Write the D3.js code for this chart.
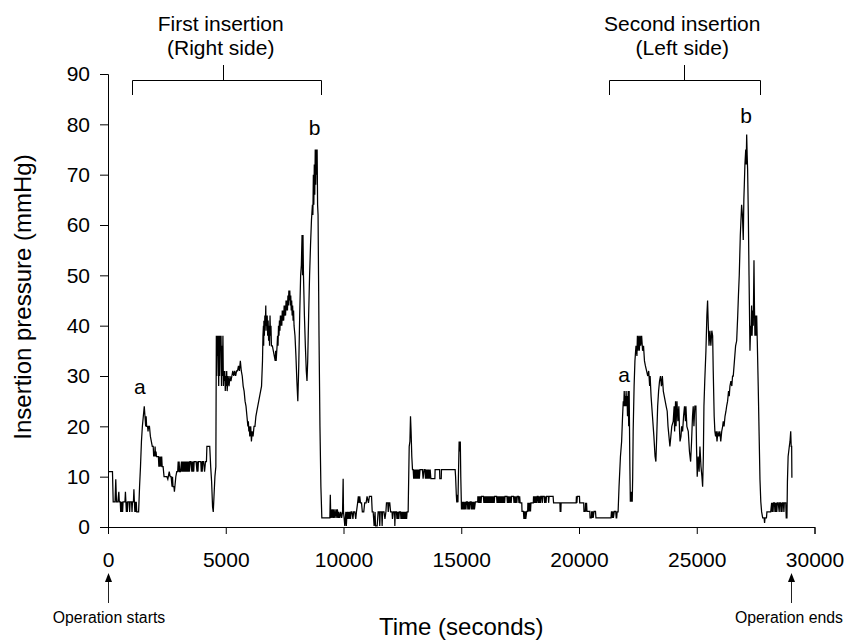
<!DOCTYPE html>
<html>
<head>
<meta charset="utf-8">
<script src="https://cdn.jsdelivr.net/npm/d3@7"></script>
<style>
  body { margin: 0; background: #fff; }
  text { font-family: "Liberation Sans", Arial, sans-serif; fill: #000; }
</style>
</head>
<body>
<div id="c"></div>
<script>
// pressure trace, [time (s), pressure (mmHg)]
var seg_start = [
	[0,11],[190,11],[220,5],[300,5],[330,9.5],[360,5],[420,5],[460,7],[480,5],[520,5],[540,3],[560,5],[580,3],[600,5],[620,3],[640,5],
	[720,5],[740,7],[760,5],[780,3],[800,5],[820,3],[840,5],[900,5],[920,3],[940,5],[1000,5],[1020,3],[1040,5],[1080,5],[1100,7.5],
	[1120,5],[1140,3],[1160,5],[1180,3],[1200,5],[1220,3],[1300,3],
	[1340,8],[1380,12],[1420,17],[1460,20],[1500,22],[1540,24],[1570,22],[1600,20],[1620,22],[1640,20],[1680,20],[1700,19],[1720,20],
	[1760,20],[1800,18],[1840,17],[1880,16],[1920,16],[1940,14],[1960,15],[1980,14],[2000,16],[2020,14],[2040,15],[2060,14],[2100,14],
	[2140,14],[2160,12],[2180,14],[2200,12],[2240,14],[2260,12],[2280,14],[2300,12],[2340,12],[2380,10],[2420,10],[2460,10],[2500,10],
	[2540,9.5],[2600,11],[2640,10],[2680,10],[2720,8],[2740,10],[2760,8],[2800,8],[2820,7],[2840,8],[2880,10],[2920,11],[2960,11],
	[2980,13],[3000,11],[3020,13],[3040,11],[3080,11],[3120,13],[3140,11],[3160,13],[3180,11],[3200,13],[3220,11],[3240,13],[3260,11],
	[3280,13],[3300,11],[3320,13],[3340,11],[3360,13],[3380,11],[3400,13],[3420,11],[3440,13],[3460,11],[3480,13],[3520,13],[3560,11],
	[3580,13],[3600,11],[3620,13],[3640,11],[3660,13],[3700,13],[3740,13],[3780,11],[3800,13],[3820,11],[3840,13],[3900,13],[3940,13],
	[3960,11],[3980,13],[4000,11],[4020,13],[4060,13],[4100,11],[4140,13],[4180,13],[4200,16],[4320,16],[4360,12],[4400,9],[4440,4],
	[4470,3],[4500,6],[4540,10]
];

var seg_first = [
	[4580,12],[4600,38],[4620,30],[4640,38],[4660,34],[4680,38],[4700,28],[4720,38],[4740,30],[4760,38],[4780,35],[4800,38],[4820,28],
	[4840,36],[4860,30],[4880,38],[4900,28],[4920,31],[4940,29],[4960,31],[4980,27],[5000,30],[5020,28],[5040,31],[5060,27],[5100,30],
	[5140,28],[5180,30],[5220,29],[5260,30],[5300,31],[5340,30],[5380,31],[5420,30],[5460,31],[5500,31],[5540,32],[5580,31],[5620,33],
	[5660,31],[5700,30],[5740,28],[5780,27],[5820,25],[5860,24],[5900,22],[5940,20],[5960,21],[5980,19],[6000,20],[6020,18],[6060,20],
	[6090,17],[6120,19],[6160,18],[6200,20],[6240,20],[6280,22],[6320,23],[6360,24],[6400,25],[6440,26],[6480,27],[6520,28],[6560,33],
	[6580,38],[6600,40],[6610,36],[6620,41],[6640,38],[6660,42],[6680,40],[6700,44],[6710,39],[6720,42],[6740,40],[6760,42],[6780,38],
	[6800,41],[6820,37],[6840,40],[6860,36],[6880,42],[6900,38],[6920,40],[6940,36],[6980,36],[7020,35],[7060,34],[7100,33],[7120,35],
	[7140,33],[7180,36],[7200,38],[7220,36],[7240,40],[7260,38],[7280,41],[7300,39],[7320,42],[7340,40],[7360,42],[7380,40],[7400,43],
	[7420,41],[7440,43],[7460,41],[7480,44],[7500,42],[7520,44],[7540,42],[7560,45],[7580,43],[7600,45],[7620,43],[7640,46],[7660,44],
	[7680,47],[7700,45],[7720,47],[7740,44],[7760,46],[7780,43],[7800,45],[7820,42],[7840,44],[7860,41],[7880,43],[7900,40],[7940,38],
	[7980,34],[8020,29],[8060,25],[8100,32],[8140,42],[8180,50],[8210,52],[8240,58],[8260,50],[8280,58],[8300,50],[8340,42],[8380,36],
	[8420,31],[8450,29],[8480,33],[8520,42],[8560,50],[8600,56],[8640,61],[8680,64],[8700,62],[8720,70],[8740,64],[8760,72],[8780,66],
	[8800,75],[8820,68],[8840,75],[8860,70],[8880,75],[8900,64],[8920,62],[8940,50],[8960,38],[9000,20],[9040,8]
];

var seg_gap = [
	[9080,1.8],[9420,1.8],[9440,6.4],[9460,1.8],[9480,3.5],[9520,1.8],[9540,3.5],[9580,1.8],[9600,3.5],[9640,1.8],[9680,3.5],[9720,1.8],
	[9740,3.5],[9780,1.8],[9800,3],[9840,1.8],[9880,3],[9920,1.8],[9960,3],[9985,9.6],[10000,3],[10030,1.6],[10055,0.2],[10100,3],
	[10120,0.2],[10150,3],[10180,1.6],[10200,3],[10240,1.6],[10260,3],[10300,1.6],[10320,3],[10360,3],[10400,1.6],[10430,3],[10480,3],
	[10520,1.6],[10550,3],[10600,4.8],[10630,6.1],[10660,4.8],[10690,6.1],[10720,4.8],[10765,4.8],[10800,3],[10860,3],[10900,4.8],
	[10960,4.8],[11000,6.1],[11060,4.8],[11100,6.1],[11190,6.1],[11220,3],[11260,3],[11300,0.2],[11340,3],[11360,0.2],[11430,0.2],
	[11470,3],[11520,3],[11540,0.2],[11560,3],[11620,3],[11640,0.2],[11660,3],[11720,3],[11760,1.6],[11800,3],[11825,4.8],[11880,4.8],
	[11900,3],[11930,4.8],[11965,4.8],[12000,3],[12060,3],[12080,1.6],[12120,3],[12170,3],[12180,0.2],[12200,3],[12250,3],[12270,1.6],
	[12290,3],[12310,1.6],[12330,3],[12350,1.6],[12370,3],[12420,3],[12440,1.6],[12460,3],[12480,1.6],[12500,3],[12520,1.6],[12540,3],
	[12560,1.6],[12580,3],[12600,1.6],[12620,3],[12640,1.6],[12660,3],[12680,1.6],[12700,3],[12745,3],[12790,16],[12820,17],[12845,22],
	[12870,19],[12900,14],[12930,11.4],[12960,11.4],[12980,9.6],[13000,11.4],[13020,9.6],[13040,11.4],[13060,9.6],[13080,11.4],
	[13100,9.6],[13120,11.4],[13140,9.6],[13160,11.4],[13180,9.6],[13200,11.4],[13220,9.6],[13250,11.4],[13350,11.4],[13380,9.6],
	[13420,11.4],[13460,11.4],[13480,9.6],[13500,11.4],[13520,9.6],[13540,11.4],[13560,9.6],[13580,11.4],[13600,9.6],[13620,11.4],
	[13650,9.6],[13680,11.4],[13710,9.6],[13880,9.6],[13890,11.4],[14080,11.4],[14090,9.6],[14150,9.6],[14160,11.4],[14740,11.4],
	[14760,10],[14790,6.4],[14810,4.9],[14830,6.4],[14860,4.9],[14880,10],[14910,17],[14940,15],[14960,17],[14980,10],[15010,3.5],
	[15040,5],[15060,3.5],[15080,5],[15100,3.5],[15120,5],[15140,3.5],[15180,5],[15200,3.5],[15220,5],[15260,5],[15280,3.5],[15300,5],
	[15320,3.5],[15340,5],[15360,3.5],[15380,5],[15420,5],[15440,3.5],[15460,5],[15480,3.5],[15500,5],[15520,3.5],[15540,5],[15560,3.5],
	[15600,5],[15700,5],[15705,6.1],[15720,4.8],[15740,6.1],[15760,4.8],[15780,6.1],[15800,4.8],[15820,6.1],[15840,4.8],[15860,6.1],
	[15940,6.1],[15960,4.8],[15980,6.1],[16000,4.8],[16020,6.1],[16040,4.8],[16060,6.1],[16080,4.8],[16100,6.1],[16120,4.8],[16140,6.1],
	[16160,4.8],[16180,6.1],[16200,4.8],[16220,6.1],[16240,4.8],[16260,6.1],[16280,4.8],[16300,6.1],[16320,4.8],[16340,6.1],[16360,4.8],
	[16380,6.1],[16400,4.8],[16420,6.1],[16500,6.1],[16520,4.8],[16540,6.1],[16560,4.8],[16580,6.1],[16600,4.8],[16620,6.1],[16640,4.8],
	[16660,6.1],[16680,4.8],[16700,6.1],[16720,4.8],[16740,6.1],[16760,4.8],[16780,6.1],[16800,4.8],[16820,6.1],[16840,4.8],[16860,6.1],
	[16940,6.1],[16960,4.8],[16980,6.1],[17000,4.8],[17020,6.1],[17060,4.8],[17080,6.1],[17120,4.8],[17140,6.1],[17220,6.1],[17240,4.8],
	[17260,6.1],[17300,4.8],[17320,6.1],[17360,4.8],[17380,6.1],[17430,6.1],[17450,4.8],[17480,6.1],[17500,4.8],[17570,4.8],[17580,3.1],
	[17640,3.1],[17660,1.6],[17680,3.1],[17700,1.6],[17720,3.1],[17740,1.6],[17780,3.1],[17820,3.1],[17830,4.8],[17860,3.1],[17880,4.8],
	[17900,3.1],[17920,4.8],[17940,3.1],[17960,4.8],[18060,4.8],[18070,6.1],[18090,4.8],[18110,6.1],[18130,4.8],[18150,6.1],[18170,4.8],
	[18190,6.1],[18210,4.8],[18230,6.1],[18260,6.1],[18280,4.8],[18300,6.1],[18320,4.8],[18340,6.1],[18360,4.8],[18380,6.1],[18420,6.1],
	[18440,4.8],[18460,6.1],[18520,6.1],[18540,4.8],[18560,6.1],[18600,4.8],[18620,6.1],[18700,6.1],[18710,4.8],[18730,6.1],[18900,6.1],
	[18920,4.8],[19190,4.8],[19200,3.1],[19230,3.1],[19240,4.8],[19880,4.8],[19890,6.1],[19910,4.8],[19930,6.1],[20020,6.1],[20030,4.8],
	[20200,4.8],[20210,3.1],[20260,3.1],[20280,4.8],[20300,3.1],[20320,4.8],[20340,3.1],[20460,3.1],[20470,1.8],[20520,1.8],[20540,3.1],
	[20560,1.8],[20580,3.1],[20600,1.8],[20640,3.1],[20700,3.1],[20720,1.8],[21360,1.8],[21380,3.1],[21420,1.8],[21440,3.1],[21460,1.8],
	[21500,3.1],[21560,3.1],[21580,1.8]
];

var seg_second = [
	[21600,1.8],[21620,3],[21660,3],[21700,8],[21760,14],[21810,17],[21850,22],[21880,25],[21900,24],[21920,27],[21940,24],[21960,26],
	[21980,24],[22000,27],[22020,24],[22040,26],[22060,22],[22090,27],[22110,20],[22130,27],[22160,12],[22180,5],[22200,7],[22220,5],
	[22240,7],[22260,5],[22280,10],[22300,19],[22340,28],[22375,33],[22420,36],[22460,34],[22480,38],[22500,35],[22540,38],[22560,35],
	[22600,38],[22620,36],[22660,38],[22700,35],[22740,36],[22780,33],[22820,32],[22870,31],[22920,30],[22960,31],[23000,28],[23020,30],
	[23060,26],[23120,22],[23180,18],[23230,14],[23265,13],[23300,18],[23340,24],[23380,27],[23420,29],[23460,30],[23500,28],[23540,30],
	[23580,27],[23620,26],[23660,25],[23700,24],[23745,23],[23780,20],[23820,18],[23860,16],[23900,18],[23940,20],[24000,21],[24040,24],
	[24060,19],[24100,25],[24120,20],[24160,25],[24200,21],[24240,24],[24270,19],[24290,17],[24330,18],[24360,20],[24400,19],[24440,22],
	[24480,24],[24520,21],[24540,24],[24580,20],[24640,19],[24690,15],[24740,13],[24780,17],[24820,22],[24850,24],[24880,20],[24920,24],
	[24965,24],[24990,16],[25020,10],[25060,14],[25100,11],[25135,16],[25180,12],[25220,10],[25250,8],[25280,14],[25305,24],[25340,29],
	[25390,35],[25430,42],[25460,45],[25490,40],[25520,36],[25560,39],[25600,36],[25640,39],[25675,38],[25700,31],[25740,22],[25770,19],
	[25800,18],[25830,19],[25860,17],[25900,19],[25940,18],[25980,19],[26020,17],[26060,19],[26100,20],[26125,21],[26160,20],[26200,22],
	[26240,23],[26270,24],[26310,25],[26350,27],[26380,26],[26410,28],[26450,29],[26490,28],[26520,30],[26550,30],[26600,33],[26650,36],
	[26695,37],[26740,42],[26770,46],[26805,50],[26850,58],[26905,64],[26940,62],[26975,57],[27000,65],[27020,68],[27045,72],[27080,75],
	[27100,72],[27120,78],[27140,74],[27160,71],[27190,62],[27220,50],[27260,35],[27290,40],[27310,38],[27330,44],[27350,38],[27380,43],
	[27400,40],[27430,53],[27450,44],[27470,38],[27500,42],[27520,38],[27545,42],[27570,37],[27610,28],[27650,18],[27685,9.4],[27720,5],
	[27755,3],[27800,1.8],[27860,1.8],[27880,0.8],[27900,1.8],[27960,1.8],[27980,3],[28140,3],[28180,4.8],[28200,3],[28220,4.8],
	[28240,3],[28260,4.8],[28300,4.8],[28320,3],[28340,4.8],[28360,3],[28380,4.8],[28400,3],[28420,4.8],[28460,4.8],[28500,3],[28520,4.8],
	[28560,4.8],[28580,3],[28600,4.8],[28620,3],[28640,4.8],[28680,4.8],[28700,3],[28720,4.8],[28780,4.8],[28800,1.8],[28830,1.8],
	[28850,9],[28880,14],[28930,16],[28960,17],[28990,19],[29010,16],[29030,16],[29040,9.8]
];

var x_ticks = [0, 5000, 10000, 15000, 20000, 25000, 30000];
var y_ticks = [0, 10, 20, 30, 40, 50, 60, 70, 80, 90];

// insertion brackets: start / end / centre time
var bracket_start = [1000, 21270];
var bracket_end = [9050, 27685];
var bracket_mid = [4870, 24470];
var bracket_title = ["First insertion", "Second insertion"];
var bracket_sub = ["(Right side)", "(Left side)"];

// peak letters
var peak_labels = ["a", "b", "a", "b"];
var peak_time = [1350, 8770, 21915, 27100];
var peak_value = [26.5, 77.9, 28.9, 80.2];

// arrows below the axis
var arrow_time = [0, 29000];
var arrow_text = ["Operation starts", "Operation ends"];

var trace = seg_start.concat(seg_first, seg_gap, seg_second);

var width = 848;
var height = 644;

var svg = d3.select("#c").append("svg")
	.attr("width", width)
	.attr("height", height)
	.style("display", "block");

svg.append("rect").attr("width", width).attr("height", height).attr("fill", "#fff");

var x_scale = d3.scaleLinear().domain([0, 30000]).range([108, 814.5]);
var y_scale = d3.scaleLinear().domain([0, 90]).range([527, 74]);

// axes
var x_axis = svg.append("g")
	.attr("transform", "translate(0," + y_scale(0) + ")")
	.call(d3.axisBottom(x_scale).tickValues(x_ticks).tickSizeOuter(0).tickSize(7).tickPadding(18)
		.tickFormat(d3.format("d")));

var y_axis = svg.append("g")
	.attr("transform", "translate(" + x_scale(0) + ",0)")
	.call(d3.axisLeft(y_scale).tickValues(y_ticks).tickSizeOuter(0).tickSize(8).tickPadding(10));

svg.selectAll(".tick text")
	.style("font-family", '"Liberation Sans", Arial, sans-serif')
	.style("font-size", "21px")
	.attr("fill", "#000");
svg.selectAll(".domain, .tick line").attr("stroke", "#000");

// trace
var line = d3.line()
	.x(function(d) { return x_scale(d[0]); })
	.y(function(d) { return y_scale(d[1]); });

svg.append("path")
	.datum(trace)
	.attr("d", line)
	.attr("fill", "none")
	.attr("stroke", "#000")
	.attr("stroke-width", 1.25)
	.attr("stroke-linejoin", "miter");

// peak letters
svg.selectAll(".peak")
	.data(peak_labels)
	.enter()
	.append("text")
	.attr("class", "peak")
	.attr("x", function(d, i) { return x_scale(peak_time[i]); })
	.attr("y", function(d, i) { return y_scale(peak_value[i]); })
	.attr("text-anchor", "middle")
	.style("font-size", "21px")
	.text(function(d) { return d; });

// brackets
var br = svg.selectAll(".bracket")
	.data(bracket_title)
	.enter()
	.append("g")
	.attr("class", "bracket");

br.append("path")
	.attr("d", function(d, i) {
		var a = Math.round(x_scale(bracket_start[i])) + 0.5,
			b = Math.round(x_scale(bracket_end[i])) + 0.5,
			m = Math.round(x_scale(bracket_mid[i])) + 0.5;
		return "M" + a + ",95V80.5H" + b + "V95M" + m + ",80.5V65";
	})
	.attr("fill", "none")
	.attr("stroke", "#000")
	.attr("stroke-width", 1);

br.append("text")
	.attr("x", function(d, i) { return x_scale(bracket_mid[i]) - 2; })
	.attr("y", 31)
	.attr("text-anchor", "middle")
	.style("font-size", "21px")
	.text(function(d) { return d; });

br.append("text")
	.attr("x", function(d, i) { return x_scale(bracket_mid[i]) - 2; })
	.attr("y", 55)
	.attr("text-anchor", "middle")
	.style("font-size", "21px")
	.text(function(d, i) { return bracket_sub[i]; });

// arrows
var ar = svg.selectAll(".arrow")
	.data(arrow_text)
	.enter()
	.append("g")
	.attr("class", "arrow");

ar.append("line")
	.attr("x1", function(d, i) { return Math.round(x_scale(arrow_time[i])) + 0.5; })
	.attr("x2", function(d, i) { return Math.round(x_scale(arrow_time[i])) + 0.5; })
	.attr("y1", 603)
	.attr("y2", 580)
	.attr("stroke", "#222")
	.attr("stroke-width", 1);

ar.append("path")
	.attr("d", function(d, i) {
		var cx = Math.round(x_scale(arrow_time[i])) + 0.5;
		return "M" + cx + ",573L" + (cx - 3.5) + ",582L" + (cx + 3.5) + ",582Z";
	})
	.attr("fill", "#000");

ar.append("text")
	.attr("x", function(d, i) { return x_scale(arrow_time[i]) + (i == 0 ? 1 : -2); })
	.attr("y", 622.5)
	.attr("text-anchor", "middle")
	.style("font-size", "15.8px")
	.text(function(d) { return d; });

// axis titles
svg.append("text")
	.attr("x", (x_scale(0) + x_scale(30000)) / 2)
	.attr("y", 635)
	.attr("text-anchor", "middle")
	.style("font-size", "24px")
	.text("Time (seconds)");

svg.append("text")
	.attr("transform", "translate(31,297) rotate(-90)")
	.attr("text-anchor", "middle")
	.style("font-size", "24px")
	.text("Insertion pressure (mmHg)");
</script>
</body>
</html>
